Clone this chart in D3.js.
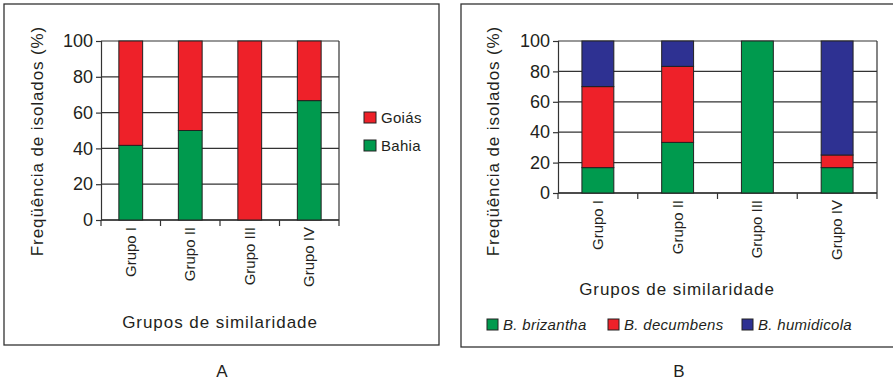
<!DOCTYPE html>
<html><head><meta charset="utf-8">
<script src="https://cdn.jsdelivr.net/npm/d3@7"></script>
<style>body{margin:0;background:#fff}svg{display:block}text{font-family:"Liberation Sans",Arial,sans-serif;fill:#231f20}</style>
</head><body>
<svg id="c" width="893" height="380"></svg>
<script>
const categories = ["Grupo I","Grupo II","Grupo III","Grupo IV"];
const yTicks = [0,20,40,60,80,100];
// Panel A
const seriesA = ["Bahia","Goiás"];
const bahia = [41.7,50,0,66.7];
const goias = [58.3,50,100,33.3];
// Panel B
const seriesB = ["B. brizantha","B. decumbens","B. humidicola"];
const brizantha = [16.7,33.3,100,16.7];
const decumbens = [53.3,50,0,8.3];
const humidicola = [30,16.7,0,75];

const colors = {"Bahia":"#009a4e","Goiás":"#ee2129","B. brizantha":"#009a4e","B. decumbens":"#ee2129","B. humidicola":"#2e3192"};
const yTitle = "Freqüência de isolados (%)";
const xTitle = "Grupos de similaridade";

const svg = d3.select("#c");
const ink = "#333";

function panel(o){
  const g = svg.append("g");
  g.append("rect").attr("x",o.frame[0]).attr("y",o.frame[1]).attr("width",o.frame[2]-o.frame[0]).attr("height",o.frame[3]-o.frame[1])
    .attr("fill","none").attr("stroke",ink).attr("stroke-width",1.3);
  const x = d3.scaleBand().domain(categories).range([o.px0,o.px1]).paddingInner(0.6).paddingOuter(0.3);
  const xb = d3.scaleBand().domain(categories).range([o.px0,o.px1]);
  const y = d3.scaleLinear().domain([0,100]).range([o.py1,o.py0]);
  // grid
  g.append("g").selectAll("line").data(yTicks).join("line")
    .attr("x1",o.px0).attr("x2",o.px1).attr("y1",d=>y(d)).attr("y2",d=>y(d)).attr("stroke",ink).attr("stroke-width",1.2);
  g.append("line").attr("x1",o.px1).attr("x2",o.px1).attr("y1",o.py0).attr("y2",o.py1).attr("stroke",ink).attr("stroke-width",1.2);
  // y axis
  const ya = g.append("g").attr("transform",`translate(${o.px0},0)`).call(d3.axisLeft(y).tickValues(yTicks).tickSize(5).tickPadding(3));
  ya.select(".domain").attr("stroke",ink).attr("stroke-width",1.2);
  ya.selectAll(".tick line").attr("stroke",ink).attr("stroke-width",1.2);
  ya.selectAll(".tick text").attr("font-size",18).attr("font-family","Liberation Sans, Arial, sans-serif").attr("fill","#231f20");
  // x boundary ticks
  const bounds = categories.map(c=>xb(c)).concat([o.px1]);
  g.append("g").selectAll("line").data(bounds).join("line")
    .attr("x1",d=>d).attr("x2",d=>d).attr("y1",o.py1).attr("y2",o.py1+6).attr("stroke",ink).attr("stroke-width",1.2);
  g.append("line").attr("x1",o.px0).attr("x2",o.px1).attr("y1",o.py1).attr("y2",o.py1).attr("stroke",ink).attr("stroke-width",1.4);
  // bars
  const stack = d3.stack().keys(o.keys)(categories.map((c,i)=>{const r={cat:c};o.keys.forEach((k,j)=>r[k]=o.vals[j][i]);return r;}));
  g.append("g").selectAll("g").data(stack).join("g").attr("fill",d=>colors[d.key])
    .selectAll("rect").data(d=>d.filter(p=>p[1]-p[0]>0)).join("rect")
    .attr("x",d=>x(d.data.cat)).attr("width",x.bandwidth())
    .attr("y",d=>y(d[1])).attr("height",d=>y(d[0])-y(d[1]))
    .attr("stroke","#222").attr("stroke-width",1);
  // x labels
  g.append("g").selectAll("text").data(categories).join("text")
    .attr("transform",d=>`translate(${xb(d)+xb.bandwidth()/2+5},${o.py1+7}) rotate(-90)`)
    .attr("text-anchor","end").attr("font-size",15).text(d=>d);
  // titles
  g.append("text").attr("transform",`translate(${o.ytx},${o.yty}) rotate(-90)`).attr("text-anchor","middle")
    .attr("font-size",17).attr("letter-spacing",0.9).text(yTitle);
  g.append("text").attr("x",o.xtx).attr("y",o.xty).attr("text-anchor","middle").attr("font-size",17).attr("letter-spacing",0.95).text(xTitle);
  g.append("text").attr("x",o.lx).attr("y",377).attr("text-anchor","middle").attr("font-size",17).text(o.letter);
  return g;
}

const gA = panel({frame:[4,4,439,345],px0:101,px1:339,py0:41,py1:220,keys:seriesA,vals:[bahia,goias],
  ytx:43,yty:141,xtx:220,xty:328,lx:222,letter:"A"});
// legend A (reversed order: Goiás on top)
const legA = gA.append("g").selectAll("g").data(seriesA.slice().reverse()).join("g")
  .attr("transform",(d,i)=>`translate(364,${112+i*28})`);
legA.append("rect").attr("width",12).attr("height",11).attr("fill",d=>colors[d]).attr("stroke","#222").attr("stroke-width",1);
legA.append("text").attr("x",17).attr("y",11).attr("font-size",15).attr("letter-spacing",0.3).text(d=>d);

const gB = panel({frame:[461,4,894,347],px0:558,px1:877,py0:41,py1:193,keys:seriesB,vals:[brizantha,decumbens,humidicola],
  ytx:499,yty:141,xtx:677,xty:295,lx:679,letter:"B"});
const legX = [487,608,742];
const legB = gB.append("g").selectAll("g").data(seriesB).join("g")
  .attr("transform",(d,i)=>`translate(${legX[i]},319)`);
legB.append("rect").attr("width",11).attr("height",11).attr("fill",d=>colors[d]).attr("stroke","#222").attr("stroke-width",1);
legB.append("text").attr("x",16).attr("y",11).attr("font-size",15).attr("font-style","italic").attr("letter-spacing",0.3).text(d=>d);
</script>
</body></html>
